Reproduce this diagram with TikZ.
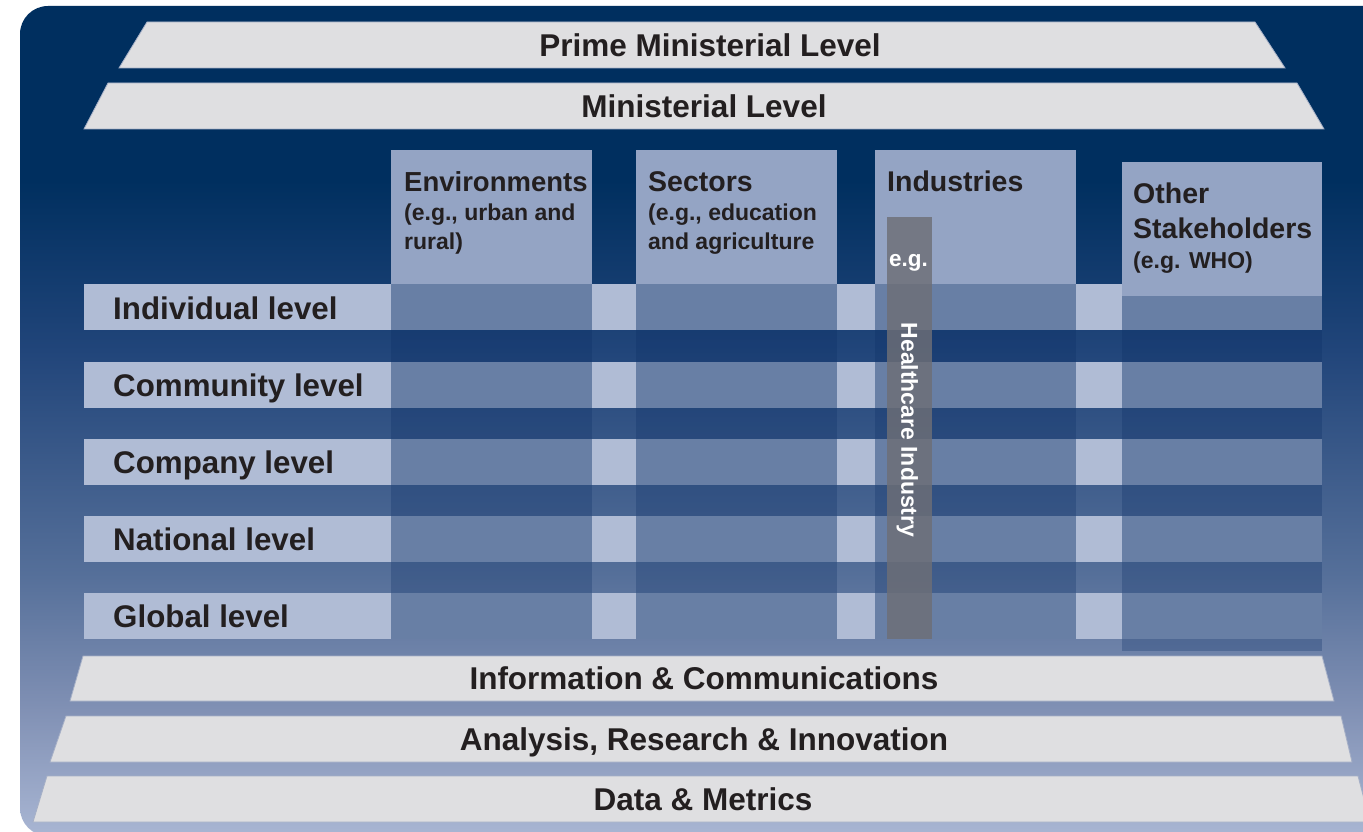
\documentclass[tikz,border=0pt]{standalone}
\usepackage{fontspec}
\setmainfont{Liberation Sans}
\definecolor{bgA}{RGB}{0,47,95}
\definecolor{bgB}{RGB}{33,69,122}
\definecolor{bgC}{RGB}{86,112,154}
\definecolor{bgD}{RGB}{128,144,180}
\definecolor{bgE}{RGB}{170,183,212}
\definecolor{barfill}{RGB}{223,223,225}
\definecolor{barline}{RGB}{165,175,198}
\definecolor{rowlight}{RGB}{176,188,213}
\definecolor{cellblue}{RGB}{104,127,165}
\definecolor{headfill}{RGB}{148,164,196}
\definecolor{colshade}{RGB}{10,45,100}
\definecolor{hcgray}{RGB}{110,111,118}
\definecolor{txt}{RGB}{35,31,32}
\begin{document}
\begin{tikzpicture}[x=1pt,y=-1pt,
  bar/.style={fill=barfill,draw=barline,line width=0.8pt},
  bartext/.style={font=\fontsize{31.5}{36}\selectfont\bfseries, text=txt, inner sep=0pt, text height=22.5pt, text depth=0pt, anchor=center},
  rowtext/.style={font=\fontsize{31.3}{36}\selectfont\bfseries, text=txt, inner sep=0pt, text height=22pt, text depth=0pt, anchor=west},
  headtext/.style={font=\fontsize{28.5}{34}\selectfont\bfseries, text=txt, inner sep=0pt, anchor=base west},
  subtext/.style={font=\fontsize{23}{28}\selectfont\bfseries, text=txt, inner sep=0pt, anchor=base west},
  colbody/.style={fill=colshade, fill opacity=0.28},
  rowstrip/.style={fill=rowlight},
  cell/.style={fill=cellblue},
  headbox/.style={fill=headfill},
  hcbar/.style={fill=hcgray, fill opacity=0.82},
  whitetext/.style={text=white, inner sep=0pt, font=\bfseries}
]
\useasboundingbox (0,0) rectangle (1363,832);
\fill[white] (0,0) rectangle (1363,832);
% background
\begin{scope}
  \clip[rounded corners=28pt] (20,6) rectangle (1392,836);
  \fill[bgA] (0,0) rectangle (1400,181);
  \shade[top color=bgA,bottom color=bgB] (0,180) rectangle (1400,351);
  \shade[top color=bgB,bottom color=bgC] (0,350) rectangle (1400,578);
  \shade[top color=bgC,bottom color=bgD] (0,577) rectangle (1400,708);
  \shade[top color=bgD,bottom color=bgE] (0,707) rectangle (1400,840);
\end{scope}
% top bars
\draw[bar] (147,22) -- (1255,22) -- (1285,68) -- (119,68) -- cycle;
\draw[bar] (108,83) -- (1297,83) -- (1324,129) -- (84,129) -- cycle;
% bottom bars
\draw[bar] (83,656) -- (1322,656) -- (1334,701) -- (70,701) -- cycle;
\draw[bar] (66,716) -- (1341,716) -- (1352,762) -- (50,762) -- cycle;
\draw[bar] (47,776) -- (1358,776) -- (1370,822) -- (33,822) -- cycle;
% column bodies
\fill[colbody] (391,283) rectangle (592,638.5);
\fill[colbody] (636,283) rectangle (837,638.5);
\fill[colbody] (875,283) rectangle (1076,638.5);
\fill[colbody] (1122,296) rectangle (1322,651);
% row strips and cells
\foreach \t in {284,361.5,438.5,515.5,592.5}{
  \fill[rowstrip] (84,\t) rectangle (1322,\t+46);
  \fill[cell] (391,\t) rectangle (592,\t+46);
  \fill[cell] (636,\t) rectangle (837,\t+46);
  \fill[cell] (875,\t) rectangle (1076,\t+46);
  \fill[cell] (1122,\t) rectangle (1322,\t+46);
}
% header boxes
\fill[headbox] (391,150) rectangle (592,284);
\fill[headbox] (636,150) rectangle (837,284);
\fill[headbox] (875,150) rectangle (1076,284);
\fill[headbox] (1122,162) rectangle (1322,296);
% healthcare bar
\fill[hcbar] (887,217) rectangle (932,638.5);
% bar texts
\node[bartext] (pm) at (710,45) {Prime Ministerial Level};
\node[bartext] (min) at (704,106) {Ministerial Level};
\node[bartext] (info) at (704,678.5) {Information \& Communications};
\node[bartext] (ari) at (704,739) {Analysis, Research \& Innovation};
\node[bartext] (data) at (703,799) {Data \& Metrics};
% row texts
\node[rowtext] (r1) at (113,308) {Individual level};
\node[rowtext] (r2) at (113,385) {Community level};
\node[rowtext] (r3) at (113,462) {Company level};
\node[rowtext] (r4) at (113,539) {National level};
\node[rowtext] (r5) at (113,616) {Global level};
% column headers
\node[headtext,font=\fontsize{27.5}{34}\selectfont\bfseries] (env) at (404,191) {Environments};
\node[subtext] (env1) at (404,220) {(e.g., urban and};
\node[subtext] (env2) at (404,249) {rural)};
\node[headtext] (sec) at (648,191) {Sectors};
\node[subtext] (sec1) at (648,220) {(e.g., education};
\node[subtext] (sec2) at (648,249) {and agriculture};
\node[headtext] (ind) at (887,191) {Industries};
\node[headtext] (oth1) at (1133,203) {Other};
\node[headtext] (oth2) at (1133,238) {Stakeholders};
\node[subtext] (oth3) at (1133,268) {(e.g. WHO)};
% healthcare texts
\node[whitetext, font=\fontsize{22.5}{27}\selectfont\bfseries, anchor=base] (eg) at (908.5,266) {e.g.};
\node[whitetext, font=\fontsize{23}{27}\selectfont\bfseries, text height=16.5pt, text depth=0pt, rotate=-90, anchor=center] (hc) at (909.5,430) {Healthcare Industry};
\end{tikzpicture}
\end{document}
